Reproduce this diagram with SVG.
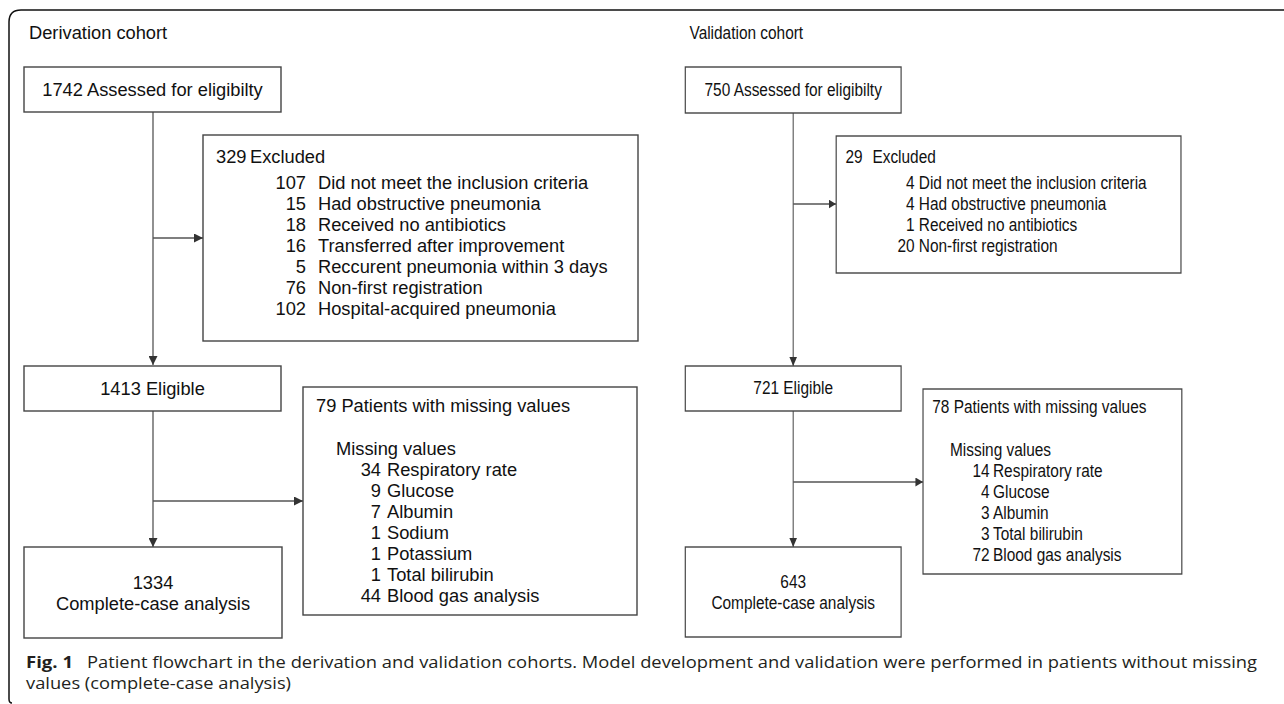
<svg xmlns="http://www.w3.org/2000/svg" width="1284" height="704" viewBox="0 0 1284 704">
<style>
.bx{fill:#fff;stroke:#444;stroke-width:1.4}
.t{font-family:"Liberation Sans",Arial,sans-serif;font-size:18.3px;fill:#111}
.m{text-anchor:middle}
.e{text-anchor:end}
.ln{stroke:#555;stroke-width:1.3;fill:none}
.cap{font-family:"Open Sans","Noto Sans",sans-serif;font-size:15.5px;fill:#231f20}
</style>
<defs>
<marker id="ah" viewBox="0 0 10 10" refX="10" refY="5" markerWidth="9" markerHeight="9" markerUnits="userSpaceOnUse" orient="auto">
<path d="M0,0 L10,5 L0,10 Z" fill="#333"/>
</marker>
</defs>
<rect width="1284" height="704" fill="#fff"/>
<path d="M12,703 Q9,703 9,699 L9,22 Q9,10 21,10 L1284,10" fill="none" stroke="#111" stroke-width="1.5"/>

<g id="derivation">
<text class="t" x="29" y="39">Derivation cohort</text>
<g id="d-connectors">
<line class="ln" x1="153" y1="112" x2="153" y2="365" marker-end="url(#ah)"/>
<line class="ln" x1="153" y1="238" x2="203" y2="238" marker-end="url(#ah)"/>
<line class="ln" x1="153" y1="411" x2="153" y2="547" marker-end="url(#ah)"/>
<line class="ln" x1="153" y1="501" x2="303" y2="501" marker-end="url(#ah)"/>
</g>
<g id="d-assessed">
<rect class="bx" x="24" y="67" width="257" height="45"/>
<text class="t m" x="152.5" y="96">1742 Assessed for eligibilty</text>
</g>
<g id="d-excluded">
<rect class="bx" x="203" y="135" width="435" height="206"/>
<text class="t" x="216" y="163">329</text>
<text class="t" x="250" y="163">Excluded</text>
<text class="t e" x="306" y="189">107</text><text class="t" x="318" y="189">Did not meet the inclusion criteria</text>
<text class="t e" x="306" y="210">15</text><text class="t" x="318" y="210">Had obstructive pneumonia</text>
<text class="t e" x="306" y="231">18</text><text class="t" x="318" y="231">Received no antibiotics</text>
<text class="t e" x="306" y="252">16</text><text class="t" x="318" y="252">Transferred after improvement</text>
<text class="t e" x="306" y="273">5</text><text class="t" x="318" y="273">Reccurent pneumonia within 3 days</text>
<text class="t e" x="306" y="294">76</text><text class="t" x="318" y="294">Non-first registration</text>
<text class="t e" x="306" y="315">102</text><text class="t" x="318" y="315">Hospital-acquired pneumonia</text>
</g>
<g id="d-eligible">
<rect class="bx" x="24" y="366" width="257" height="45"/>
<text class="t m" x="152.5" y="395">1413 Eligible</text>
</g>
<g id="d-missing">
<rect class="bx" x="303" y="387" width="334" height="228"/>
<text class="t" x="316" y="412">79 Patients with missing values</text>
<text class="t" x="336" y="455">Missing values</text>
<text class="t e" x="381" y="476">34</text><text class="t" x="387" y="476">Respiratory rate</text>
<text class="t e" x="381" y="497">9</text><text class="t" x="387" y="497">Glucose</text>
<text class="t e" x="381" y="518">7</text><text class="t" x="387" y="518">Albumin</text>
<text class="t e" x="381" y="539">1</text><text class="t" x="387" y="539">Sodium</text>
<text class="t e" x="381" y="560">1</text><text class="t" x="387" y="560">Potassium</text>
<text class="t e" x="381" y="581">1</text><text class="t" x="387" y="581">Total bilirubin</text>
<text class="t e" x="381" y="602">44</text><text class="t" x="387" y="602">Blood gas analysis</text>
</g>
<g id="d-complete">
<rect class="bx" x="24" y="547" width="258" height="91"/>
<text class="t m" x="153" y="589">1334</text>
<text class="t m" x="153" y="610">Complete-case analysis</text>
</g>
</g>

<g id="validation" transform="translate(660,0) scale(0.843,1) translate(-660,0)">
<text class="t" x="695" y="39">Validation cohort</text>
<g id="v-connectors">
<line class="ln" x1="818" y1="113" x2="818" y2="366" marker-end="url(#ah)"/>
<line class="ln" x1="818" y1="204" x2="869" y2="204" marker-end="url(#ah)"/>
<line class="ln" x1="818" y1="411" x2="818" y2="547" marker-end="url(#ah)"/>
<line class="ln" x1="818" y1="482" x2="972" y2="482" marker-end="url(#ah)"/>
</g>
<g id="v-assessed">
<rect class="bx" x="690" y="67" width="256" height="46"/>
<text class="t m" x="818" y="96">750 Assessed for eligibilty</text>
</g>
<g id="v-excluded">
<rect class="bx" x="869" y="136" width="409" height="137"/>
<text class="t" x="880" y="163">29</text>
<text class="t" x="912" y="163">Excluded</text>
<text class="t e" x="962" y="189">4</text><text class="t" x="967" y="189">Did not meet the inclusion criteria</text>
<text class="t e" x="962" y="210">4</text><text class="t" x="967" y="210">Had obstructive pneumonia</text>
<text class="t e" x="962" y="231">1</text><text class="t" x="967" y="231">Received no antibiotics</text>
<text class="t e" x="962" y="252">20</text><text class="t" x="967" y="252">Non-first registration</text>
</g>
<g id="v-eligible">
<rect class="bx" x="690" y="366" width="256" height="45"/>
<text class="t m" x="818" y="394">721 Eligible</text>
</g>
<g id="v-missing">
<rect class="bx" x="972" y="389" width="307" height="185"/>
<text class="t" x="983" y="413">78 Patients with missing values</text>
<text class="t" x="1004" y="456">Missing values</text>
<text class="t e" x="1051" y="477">14</text><text class="t" x="1055" y="477">Respiratory rate</text>
<text class="t e" x="1051" y="498">4</text><text class="t" x="1055" y="498">Glucose</text>
<text class="t e" x="1051" y="519">3</text><text class="t" x="1055" y="519">Albumin</text>
<text class="t e" x="1051" y="540">3</text><text class="t" x="1055" y="540">Total bilirubin</text>
<text class="t e" x="1051" y="561">72</text><text class="t" x="1055" y="561">Blood gas analysis</text>
</g>
<g id="v-complete">
<rect class="bx" x="690" y="547" width="256" height="90"/>
<text class="t m" x="818" y="588">643</text>
<text class="t m" x="818" y="609">Complete-case analysis</text>
</g>
</g>

<g id="caption">
<text class="cap" x="26" y="668" font-weight="bold" textLength="47" lengthAdjust="spacingAndGlyphs">Fig. 1</text>
<text class="cap" x="87" y="668" textLength="1170" lengthAdjust="spacingAndGlyphs">Patient flowchart in the derivation and validation cohorts. Model development and validation were performed in patients without missing</text>
<text class="cap" x="26" y="689" textLength="265" lengthAdjust="spacingAndGlyphs">values (complete-case analysis)</text>
</g>
</svg>
